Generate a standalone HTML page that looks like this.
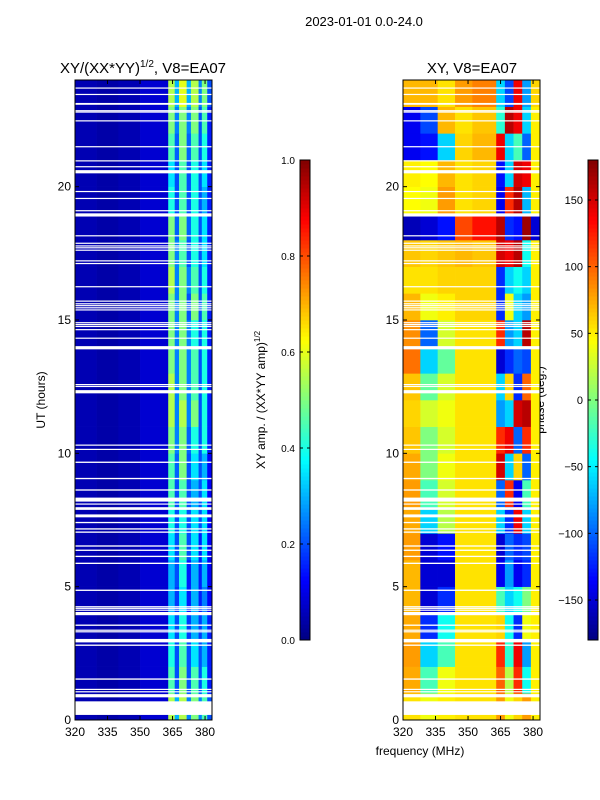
<!DOCTYPE html>
<html><head><meta charset="utf-8"><style>
body{margin:0;background:#fff;width:600px;height:800px;overflow:hidden}
svg{display:block;font-family:"Liberation Sans","DejaVu Sans",sans-serif}
</style></head><body>
<svg id="fig" width="600" height="800" xmlns="http://www.w3.org/2000/svg">
<text x="364" y="26" font-size="13" text-anchor="middle">2023-01-01 0.0-24.0</text>
<text x="143" y="73" font-size="15" text-anchor="middle">XY/(XX*YY)<tspan font-size="10" dy="-6">1/2</tspan><tspan dy="6">, V8=EA07</tspan></text>
<text x="472" y="73" font-size="15" text-anchor="middle">XY, V8=EA07</text>
<text x="420" y="755" font-size="12" text-anchor="middle">frequency (MHz)</text>
<text transform="translate(45,400) rotate(-90)" font-size="12" text-anchor="middle">UT (hours)</text>
<text transform="translate(265,400) rotate(-90)" font-size="12" text-anchor="middle">XY amp. / (XX*YY amp)<tspan font-size="8" dy="-5">1/2</tspan></text>
<text transform="translate(544,400) rotate(-90)" font-size="12" text-anchor="middle">phase (deg.)</text>
<g id="left"></g>
<g id="right"></g>
<g id="cb1"></g>
<g id="cb2"></g>
</svg>
<script>
const ampFreqEdges=[320,330,340,350,363,366,368,371.5,373.5,377,378.5,381,383.2];
const ampRows=[
[0.05,0.04,0.05,0.08,0.55,0.3,0.55,0.25,0.5,0.25,0.45,0.2],
[0.05,0.04,0.05,0.08,0.45,0.2,0.5,0.2,0.45,0.2,0.4,0.15],
[0.05,0.04,0.05,0.08,0.4,0.2,0.45,0.2,0.35,0.2,0.3,0.15],
[0.05,0.04,0.05,0.08,0.35,0.2,0.4,0.18,0.3,0.18,0.3,0.15],
[0.05,0.04,0.05,0.08,0.3,0.18,0.35,0.15,0.3,0.15,0.25,0.12],
[0.05,0.04,0.05,0.08,0.3,0.2,0.4,0.15,0.3,0.15,0.3,0.12],
[0.05,0.04,0.05,0.08,0.35,0.2,0.45,0.2,0.35,0.15,0.35,0.12],
[0.05,0.04,0.05,0.08,0.4,0.2,0.4,0.2,0.35,0.2,0.35,0.12],
[0.05,0.04,0.05,0.08,0.45,0.2,0.45,0.2,0.3,0.2,0.35,0.12],
[0.05,0.04,0.05,0.08,0.45,0.22,0.5,0.2,0.35,0.2,0.3,0.12],
[0.05,0.04,0.05,0.08,0.5,0.25,0.5,0.22,0.4,0.2,0.4,0.15],
[0.05,0.04,0.05,0.08,0.55,0.25,0.55,0.25,0.5,0.2,0.4,0.15],
[0.05,0.04,0.05,0.08,0.55,0.25,0.5,0.25,0.45,0.2,0.4,0.15],
[0.05,0.04,0.05,0.08,0.5,0.25,0.5,0.25,0.45,0.2,0.4,0.15],
[0.05,0.04,0.05,0.08,0.5,0.25,0.5,0.25,0.4,0.2,0.4,0.15],
[0.05,0.04,0.05,0.08,0.5,0.25,0.5,0.2,0.5,0.2,0.45,0.15],
[0.05,0.04,0.05,0.08,0.55,0.25,0.5,0.25,0.45,0.2,0.4,0.15],
[0.05,0.04,0.05,0.08,0.5,0.25,0.45,0.2,0.4,0.2,0.35,0.15],
[0.05,0.04,0.05,0.08,0.5,0.22,0.5,0.22,0.4,0.2,0.35,0.15],
[0.05,0.04,0.05,0.08,0.4,0.2,0.45,0.2,0.4,0.2,0.3,0.15],
[0.05,0.04,0.05,0.08,0.35,0.2,0.45,0.2,0.4,0.2,0.35,0.15],
[0.05,0.04,0.05,0.08,0.45,0.22,0.5,0.22,0.45,0.2,0.4,0.15],
[0.05,0.04,0.05,0.08,0.5,0.25,0.5,0.25,0.5,0.2,0.45,0.15],
[0.05,0.04,0.05,0.08,0.55,0.3,0.6,0.3,0.55,0.25,0.5,0.2]];
const phaseFreqEdges=[320,328,336,344,352,363,367,371,375,379,383.2];
const phaseRows=[
[55,40,50,55,55,80,40,60,80,50],
[75,-20,40,55,55,100,20,120,-40,50],
[80,-60,-20,55,55,120,-30,140,-80,50],
[75,-120,-40,55,55,60,-40,-120,40,50],
[70,-150,-120,55,55,-20,-60,-40,0,50],
[70,-150,-150,55,55,-140,-80,-140,-120,50],
[80,-150,-130,55,55,-150,-100,-120,-110,50],
[75,-60,20,55,55,-60,-120,140,-60,50],
[80,-20,30,55,55,-100,120,-140,-20,50],
[75,0,40,55,55,150,-60,60,-100,50],
[65,0,30,55,55,120,140,-100,120,50],
[60,30,40,55,55,-80,-60,150,160,50],
[65,-10,30,55,55,-60,60,-120,100,50],
[95,-60,-10,55,55,-150,-120,-100,-110,50],
[85,-100,30,55,55,120,-80,-60,160,50],
[70,40,50,60,60,-120,40,-60,-80,50],
[55,55,60,60,60,-120,-60,-40,-60,50],
[65,60,65,70,65,150,140,160,-40,50],
[-160,-150,-130,110,130,160,-120,-130,170,-150],
[45,40,80,55,60,-140,120,160,-70,50],
[50,45,70,55,60,-130,-60,150,140,50],
[-140,-130,-60,60,70,140,-60,-20,-100,50],
[-140,-110,70,55,65,-30,160,140,-60,50],
[70,70,55,80,90,-60,-110,140,-80,60]];
const flagged=[[0.19,0.6],[0.6,0.7],[0.85,0.97],[1.04,1.08],[1.13,1.17],[1.51,1.56],[2.78,2.83],[2.91,3.04],[3.29,3.33],[3.35,3.39],[3.53,3.58],[3.93,4.05],[4.11,4.14],[4.18,4.21],[4.24,4.27],[4.84,4.89],[5.85,5.9],[6.11,6.16],[6.34,6.39],[6.5,6.55],[7.02,7.07],[7.14,7.19],[7.38,7.43],[7.6,7.71],[7.88,7.98],[8.08,8.12],[8.19,8.34],[8.6,8.65],[9.03,9.08],[9.64,9.69],[10.13,10.17],[10.29,10.33],[12.25,12.37],[12.5,12.53],[12.57,12.6],[13.9,14.02],[14.3,14.34],[14.62,14.66],[14.75,14.78],[14.82,14.85],[14.88,14.92],[15.36,15.4],[15.45,15.48],[15.53,15.56],[15.6,15.63],[15.69,15.73],[16.23,16.27],[17.1,17.14],[17.2,17.24],[17.6,17.64],[17.7,17.73],[17.77,17.8],[17.86,17.9],[18.14,18.18],[18.88,19.0],[19.08,19.12],[19.54,19.58],[19.8,19.84],[20.5,20.62],[20.73,20.77],[20.95,20.99],[21.48,21.52],[22.45,22.49],[22.78,22.82],[22.84,22.87],[23.07,23.14],[23.44,23.48],[23.68,23.72]];
const yTicks=[0,5,10,15,20];
const xTicks=[320,335,350,365,380];
const ampTicks=[0.0,0.2,0.4,0.6,0.8,1.0];
const phaseTicks=[-150,-100,-50,0,50,100,150];

const NS='http://www.w3.org/2000/svg';
function jet(t){t=Math.max(0,Math.min(1,t));
 const r=Math.max(0,Math.min(1,1.5-Math.abs(4*t-3))),g=Math.max(0,Math.min(1,1.5-Math.abs(4*t-2))),b=Math.max(0,Math.min(1,1.5-Math.abs(4*t-1)));
 return `rgb(${Math.round(r*255)},${Math.round(g*255)},${Math.round(b*255)})`;}
function mk(tag,attrs,parent){const e=document.createElementNS(NS,tag);for(const k in attrs)e.setAttribute(k,attrs[k]);parent.appendChild(e);return e;}
const T0=80,B0=720,fMin=320,fMax=383.2;
function yScale(h){return B0-(h/24)*(B0-T0);}
function panel(g,x0,x1,edges,rows,norm,nameCell){
 const xs=f=>x0+(f-fMin)/(fMax-fMin)*(x1-x0);
 rows.forEach((row,i)=>{row.forEach((v,j)=>{
   const r=mk('rect',{x:xs(edges[j]),y:yScale(i+1),width:xs(edges[j+1])-xs(edges[j])+0.3,height:yScale(i)-yScale(i+1)+0.3,fill:jet(norm(v))},g);
   
   
 });});
 flagged.forEach(f=>{const y1=yScale(f[1]),y0=yScale(f[0]);
   const r=mk('rect',{x:x0,y:y1,width:x1-x0,height:Math.max(1.2,y0-y1),fill:'#fff'},g);
   
   });
 mk('rect',{x:x0,y:T0,width:x1-x0,height:B0-T0,fill:'none',stroke:'#000','stroke-width':1},g);
 yTicks.forEach(t=>{const y=yScale(t);
   mk('line',{x1:x0,x2:x0+4,y1:y,y2:y,stroke:'#000'},g);mk('line',{x1:x1,x2:x1-4,y1:y,y2:y,stroke:'#000'},g);
   const tx=mk('text',{x:x0-4,y:y+4,'font-size':12,'text-anchor':'end'},g);tx.textContent=t;
   
   });
 xTicks.forEach(t=>{const x=xs(t);
   mk('line',{x1:x,x2:x,y1:B0,y2:B0-4,stroke:'#000'},g);mk('line',{x1:x,x2:x,y1:T0,y2:T0+4,stroke:'#000'},g);
   const tx=mk('text',{x:x,y:B0+16,'font-size':12,'text-anchor':'middle'},g);tx.textContent=t;
   
   });
}
panel(document.getElementById('left'),75,212,ampFreqEdges,ampRows,v=>v,'amp-cell');
panel(document.getElementById('right'),403,540,phaseFreqEdges,phaseRows,v=>(v+180)/360,'phase-cell');
function colorbar(g,x,lo,hi,ticks,fmt){
 const top=160,bot=640,n=120;
 for(let i=0;i<n;i++){mk('rect',{x:x,y:bot-(i+1)*(bot-top)/n,width:10,height:(bot-top)/n+0.5,fill:jet((i+0.5)/n)},g);}
 mk('rect',{x:x,y:top,width:10,height:bot-top,fill:'none',stroke:'#000'},g);
 ticks.forEach(t=>{const y=bot-(t-lo)/(hi-lo)*(bot-top);
  mk('line',{x1:x,x2:x+3,y1:y,y2:y,stroke:'#000'},g);mk('line',{x1:x+10,x2:x+7,y1:y,y2:y,stroke:'#000'},g);
  const tx=mk('text',{x:x-5,y:y+4,'font-size':fmt?11:10,'text-anchor':'end'},g);tx.textContent=fmt?fmt(t):t.toFixed(1);
  
  });
}
colorbar(document.getElementById('cb1'),300,0,1,ampTicks,null);
colorbar(document.getElementById('cb2'),588,-180,180,phaseTicks,t=>t<0?'\u2212'+(-t):String(t));
</script>
</body></html>
